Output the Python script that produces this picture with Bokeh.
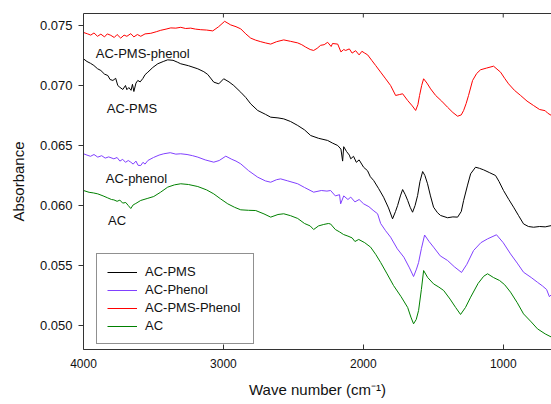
from bokeh.plotting import figure
from bokeh.models import Range1d, LinearAxis, Legend, LegendItem, FixedTicker, Label
from bokeh.embed import file_html
from bokeh.resources import INLINE

# ---------------- data ----------------
pms_wn = [4000, 3975, 3950, 3926, 3900, 3876, 3850, 3826, 3810, 3790, 3770, 3755, 3740, 3719, 3700,
          3690, 3676, 3660, 3650, 3640, 3625, 3612, 3595, 3576, 3560, 3540, 3505, 3469, 3430, 3398,
          3360, 3330, 3305, 3250, 3183, 3140, 3112, 3069, 3033, 2998, 2960, 2926, 2876, 2840, 2805,
          2755, 2700, 2662, 2610, 2569, 2520, 2469, 2420, 2376, 2320, 2255, 2220, 2183, 2160, 2148,
          2140, 2120, 2100, 2090, 2070, 2050, 2030, 1998, 1970, 1950, 1926, 1890, 1855, 1820, 1791,
          1770, 1755, 1735, 1719, 1700, 1683, 1665, 1648, 1630, 1612, 1595, 1576, 1560, 1541, 1520,
          1498, 1470, 1448, 1398, 1360, 1326, 1300, 1283, 1255, 1233, 1198, 1170, 1140, 1100, 1055,
          1030, 998, 960, 926, 890, 855, 820, 783, 740, 700, 655]
pms_abs = [0.07222, 0.07200, 0.07185, 0.07167, 0.07140, 0.07125, 0.07095, 0.07083, 0.07050, 0.07042,
           0.07060, 0.07000, 0.06985, 0.06967, 0.07000, 0.06965, 0.06983, 0.06960, 0.07010, 0.06950,
           0.07020, 0.07042, 0.07030, 0.07058, 0.07090, 0.07111, 0.07150, 0.07181, 0.07200, 0.07214,
           0.07210, 0.07195, 0.07181, 0.07165, 0.07139, 0.07115, 0.07092, 0.07028, 0.07014, 0.07056,
           0.07030, 0.07000, 0.06944, 0.06900, 0.06847, 0.06792, 0.06760, 0.06736, 0.06730, 0.06722,
           0.06700, 0.06667, 0.06630, 0.06583, 0.06560, 0.06542, 0.06520, 0.06500, 0.06470, 0.06370,
           0.06490, 0.06450, 0.06420, 0.06389, 0.06410, 0.06360, 0.06380, 0.06319, 0.06290, 0.06240,
           0.06208, 0.06140, 0.06069, 0.05980, 0.05889, 0.05950, 0.06000, 0.06080, 0.06133, 0.06090,
           0.06042, 0.05985, 0.05944, 0.06000, 0.06083, 0.06200, 0.06283, 0.06250, 0.06181, 0.06080,
           0.05986, 0.05940, 0.05917, 0.05898, 0.05905, 0.05903, 0.05950, 0.06042, 0.06170, 0.06264,
           0.06319, 0.06310, 0.06297, 0.06275, 0.06250, 0.06200, 0.06125, 0.06050, 0.05986, 0.05915,
           0.05847, 0.05825, 0.05819, 0.05825, 0.05822, 0.05833]

phenol_wn = [4000, 3975, 3950, 3925, 3898, 3870, 3845, 3820, 3783, 3760, 3740, 3720, 3700, 3680, 3662,
             3645, 3625, 3610, 3591, 3575, 3560, 3540, 3500, 3460, 3426, 3380, 3340, 3305, 3260, 3220,
             3183, 3130, 3069, 3030, 2983, 2940, 2910, 2876, 2820, 2755, 2700, 2662, 2620, 2591, 2540,
             2469, 2420, 2355, 2300, 2260, 2234, 2200, 2170, 2162, 2140, 2110, 2090, 2060, 2030, 1998,
             1960, 1930, 1898, 1876, 1841, 1805, 1757, 1710, 1670, 1641, 1620, 1605, 1585, 1562, 1530,
             1498, 1450, 1398, 1350, 1298, 1260, 1212, 1160, 1112, 1048, 1000, 948, 900, 855, 800,
             755, 720, 690, 670, 655]
phenol_abs = [0.06431, 0.06420, 0.06410, 0.06425, 0.06403, 0.06415, 0.06395, 0.06405, 0.06389, 0.06400,
              0.06370, 0.06385, 0.06360, 0.06375, 0.06361, 0.06345, 0.06370, 0.06335, 0.06333, 0.06360,
              0.06345, 0.06375, 0.06400, 0.06420, 0.06431, 0.06440, 0.06428, 0.06431, 0.06425, 0.06415,
              0.06403, 0.06380, 0.06361, 0.06375, 0.06411, 0.06385, 0.06370, 0.06347, 0.06290, 0.06236,
              0.06205, 0.06194, 0.06215, 0.06222, 0.06205, 0.06181, 0.06150, 0.06111, 0.06125, 0.06120,
              0.06125, 0.06080, 0.06090, 0.06014, 0.06080, 0.06050, 0.06070, 0.06030, 0.06050, 0.06014,
              0.05990, 0.05960, 0.05931, 0.05850, 0.05790, 0.05736, 0.05639, 0.05569, 0.05480, 0.05408,
              0.05470, 0.05525, 0.05640, 0.05754, 0.05700, 0.05653, 0.05580, 0.05542, 0.05490, 0.05442,
              0.05510, 0.05625, 0.05690, 0.05722, 0.05756, 0.05690, 0.05597, 0.05520, 0.05444, 0.05400,
              0.05360, 0.05330, 0.05300, 0.05240, 0.05258]

pms_phenol_wn = [4000, 3970, 3948, 3925, 3900, 3876, 3850, 3830, 3805, 3780, 3760, 3734, 3710, 3690,
                 3662, 3640, 3615, 3591, 3560, 3519, 3480, 3448, 3410, 3376, 3340, 3305, 3270, 3234,
                 3200, 3162, 3120, 3076, 3034, 2991, 2948, 2910, 2876, 2840, 2805, 2770, 2733, 2700,
                 2662, 2620, 2569, 2520, 2469, 2440, 2412, 2380, 2355, 2330, 2305, 2280, 2255, 2230,
                 2220, 2183, 2160, 2140, 2126, 2100, 2080, 2055, 2030, 2010, 1990, 1969, 1940, 1912,
                 1876, 1840, 1805, 1769, 1740, 1719, 1683, 1650, 1626, 1610, 1598, 1583, 1569, 1545,
                 1519, 1483, 1440, 1398, 1360, 1326, 1300, 1283, 1265, 1248, 1219, 1190, 1162, 1120,
                 1069, 1019, 990, 962, 920, 876, 830, 783, 740, 700, 683, 655]
pms_phenol_abs = [0.07442, 0.07430, 0.07420, 0.07438, 0.07410, 0.07428, 0.07405, 0.07430, 0.07418,
                  0.07400, 0.07425, 0.07395, 0.07420, 0.07410, 0.07432, 0.07405, 0.07425, 0.07410,
                  0.07430, 0.07435, 0.07448, 0.07460, 0.07470, 0.07480, 0.07478, 0.07485, 0.07475,
                  0.07478, 0.07470, 0.07465, 0.07462, 0.07455, 0.07490, 0.07535, 0.07505, 0.07490,
                  0.07472, 0.07430, 0.07395, 0.07378, 0.07365, 0.07355, 0.07345, 0.07365, 0.07380,
                  0.07368, 0.07355, 0.07340, 0.07320, 0.07300, 0.07292, 0.07310, 0.07335, 0.07340,
                  0.07360, 0.07325, 0.07350, 0.07345, 0.07280, 0.07300, 0.07292, 0.07305, 0.07270,
                  0.07290, 0.07255, 0.07285, 0.07270, 0.07255, 0.07210, 0.07167, 0.07111, 0.07055,
                  0.07000, 0.06917, 0.06925, 0.06931, 0.06875, 0.06830, 0.06792, 0.06840, 0.06917,
                  0.07000, 0.07056, 0.07020, 0.06972, 0.06917, 0.06870, 0.06819, 0.06775, 0.06744,
                  0.06755, 0.06792, 0.06850, 0.06917, 0.07042, 0.07100, 0.07131, 0.07145, 0.07161,
                  0.07111, 0.07060, 0.07014, 0.06960, 0.06917, 0.06870, 0.06833, 0.06800, 0.06790,
                  0.06770, 0.06750]

ac_wn = [4000, 3960, 3930, 3898, 3860, 3830, 3800, 3783, 3760, 3740, 3720, 3698, 3680, 3662, 3645,
         3626, 3591, 3540, 3498, 3450, 3398, 3350, 3305, 3250, 3183, 3120, 3069, 3020, 2969, 2920,
         2876, 2820, 2769, 2710, 2662, 2610, 2569, 2520, 2469, 2420, 2380, 2355, 2320, 2283, 2250,
         2234, 2200, 2170, 2141, 2110, 2080, 2060, 2033, 1990, 1948, 1910, 1876, 1830, 1784, 1730,
         1683, 1660, 1641, 1622, 1605, 1585, 1569, 1540, 1498, 1460, 1426, 1380, 1340, 1305, 1270,
         1233, 1180, 1140, 1112, 1070, 1026, 990, 948, 900, 855, 800, 755, 700, 655]
ac_abs = [0.06125, 0.06110, 0.06105, 0.06097, 0.06080, 0.06065, 0.06050, 0.06047, 0.06035, 0.06045,
          0.06020, 0.06025, 0.06000, 0.05975, 0.06005, 0.06017, 0.06042, 0.06060, 0.06075, 0.06110,
          0.06153, 0.06172, 0.06181, 0.06175, 0.06158, 0.06130, 0.06097, 0.06055, 0.06014, 0.05985,
          0.05964, 0.05960, 0.05958, 0.05930, 0.05903, 0.05925, 0.05931, 0.05915, 0.05892, 0.05850,
          0.05830, 0.05800, 0.05830, 0.05842, 0.05850, 0.05846, 0.05800, 0.05780, 0.05758, 0.05745,
          0.05730, 0.05700, 0.05717, 0.05690, 0.05653, 0.05590, 0.05525, 0.05430, 0.05333, 0.05240,
          0.05150, 0.05070, 0.05014, 0.05050, 0.05125, 0.05300, 0.05458, 0.05400, 0.05347, 0.05320,
          0.05292, 0.05220, 0.05150, 0.05092, 0.05150, 0.05236, 0.05350, 0.05410, 0.05431, 0.05400,
          0.05375, 0.05340, 0.05278, 0.05190, 0.05097, 0.05030, 0.04972, 0.04930, 0.04903]

legend_names = ["AC-PMS", "AC-Phenol", "AC-PMS-Phenol", "AC"]
curve_names = ["AC-PMS-phenol", "AC-PMS", "AC-phenol", "AC"]
x_ticks = [4000, 3000, 2000, 1000]
y_ticks = [0.050, 0.055, 0.060, 0.065, 0.070, 0.075]
y_tick_labels = ["0.050", "0.055", "0.060", "0.065", "0.070", "0.075"]
x_lo, x_hi = 4000, 655
y_lo, y_hi = 0.048, 0.076

# ---------------- figure ----------------
FONT = "Liberation Sans"
AX = "#333333"
TXT = "#111111"
p = figure(frame_width=468, frame_height=336, output_backend="svg", toolbar_location=None,
           x_range=Range1d(x_lo, x_hi), y_range=Range1d(y_lo, y_hi),
           min_border_left=83, min_border_right=0, min_border_top=13, min_border_bottom=55,
           x_axis_label="Wave number (cm\u207b\u00b9)", y_axis_label="Absorbance")
p.outline_line_color = None
p.xgrid.visible = False
p.ygrid.visible = False
p.background_fill_color = "white"
p.border_fill_color = "white"

xa = p.xaxis[0]
xa.ticker = FixedTicker(ticks=x_ticks)
xa.major_tick_in = 5
xa.major_tick_out = 0
xa.minor_tick_line_color = None
xa.major_label_text_font = FONT
xa.major_label_text_font_size = "12px"
xa.major_label_text_color = TXT
xa.major_label_standoff = 9
xa.axis_label_text_font = FONT
xa.axis_label_text_font_size = "15px"
xa.axis_label_text_font_style = "normal"
xa.axis_label_text_color = TXT
xa.axis_label_standoff = 10
xa.axis_line_color = AX
xa.major_tick_line_color = AX

ya = p.yaxis[0]
ya.ticker = FixedTicker(ticks=y_ticks)
ya.major_label_overrides = {t: s for t, s in zip(y_ticks, y_tick_labels)}
ya.major_tick_in = 0
ya.major_tick_out = 5
ya.minor_tick_line_color = None
ya.major_label_text_font = FONT
ya.major_label_text_font_size = "13px"
ya.major_label_text_color = TXT
ya.major_label_standoff = 6
ya.axis_label_text_font = FONT
ya.axis_label_text_font_size = "15px"
ya.axis_label_text_font_style = "normal"
ya.axis_label_text_color = TXT
ya.axis_label_standoff = 10
ya.axis_line_color = AX
ya.major_tick_line_color = AX

# top frame line (no labels) plus inward tick marks at the x ticks
top = LinearAxis(ticker=FixedTicker(ticks=[]), major_tick_in=0, major_tick_out=0,
                 minor_tick_line_color=None, major_tick_line_color=None,
                 axis_line_color=AX)
p.add_layout(top, "above")
tick_len = (y_hi - y_lo) * 4.0 / 336
p.segment(x0=x_ticks[1:], y0=[y_hi] * 3, x1=x_ticks[1:], y1=[y_hi - tick_len] * 3,
          line_color=AX, line_width=1)

colors = {"pms": "#000000", "phenol": "#8040FF", "pms_phenol": "#FF0000", "ac": "#008000"}

r_pms = p.line(pms_wn, pms_abs, line_color=colors["pms"], line_width=1)
r_phenol = p.line(phenol_wn, phenol_abs, line_color=colors["phenol"], line_width=1)
r_pp = p.line(pms_phenol_wn, pms_phenol_abs, line_color=colors["pms_phenol"], line_width=1)
r_ac = p.line(ac_wn, ac_abs, line_color=colors["ac"], line_width=1)

legend = Legend(items=[LegendItem(label=legend_names[0], renderers=[r_pms]),
                       LegendItem(label=legend_names[1], renderers=[r_phenol]),
                       LegendItem(label=legend_names[2], renderers=[r_pp]),
                       LegendItem(label=legend_names[3], renderers=[r_ac])],
                location=(13, 5), glyph_width=30, glyph_height=14, label_height=14,
                label_width=98, label_standoff=8, padding=10, spacing=3, margin=0,
                border_line_color="#222222", border_line_width=1,
                background_fill_color="white", background_fill_alpha=1,
                label_text_font=FONT, label_text_font_size="13px", label_text_color=TXT)
p.add_layout(legend)

label_pos = [(3912, 0.07269), (3834, 0.06806), (3841, 0.06222), (3824, 0.05875)]
for name, (lx, ly) in zip(curve_names, label_pos):
    p.add_layout(Label(x=lx, y=ly, text=name, text_font=FONT, text_font_size="13px",
                       text_color=TXT, text_align="left", text_baseline="middle"))

open("out.html", "w").write(file_html(p, INLINE))
